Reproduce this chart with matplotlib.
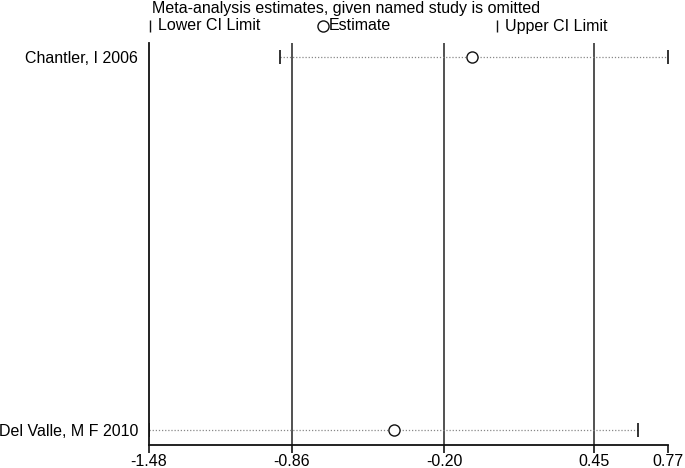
import matplotlib
matplotlib.use("Agg")
import matplotlib.pyplot as plt
from matplotlib.lines import Line2D

plt.rcParams['font.family'] = ['Liberation Sans', 'DejaVu Sans']

studies = ["Chantler, I 2006", "Del Valle, M F 2010"]
estimate = [-0.08, -0.42]
lower = [-0.91, -1.48]
upper = [0.77, 0.64]
overall = [-0.86, -0.20, 0.45]  # overall lower CI, estimate, upper CI
xticks = [-1.48, -0.86, -0.20, 0.45, 0.77]
tick_labels = ["-1.48", "-0.86", "-0.20", "0.45", "0.77"]
title = "Meta-analysis estimates, given named study is omitted"

FS = 11.5

fig = plt.figure(figsize=(6.85, 4.68), dpi=100)
ax = fig.add_axes([149/685, 1 - 445/468, (668 - 149)/685, (445 - 43)/468])

ypos = [1, 0]
for v in overall:
    ax.axvline(v, color='#222222', lw=1.1, zorder=1)

for y, lo, est, up in zip(ypos, lower, estimate, upper):
    ax.plot([lo, up], [y, y], color='#888888', lw=0.9, ls=(0, (1, 1.5)), zorder=2)
    ax.plot([lo], [y], marker='|', color='#111111', ms=10, mew=1.2, zorder=3)
    ax.plot([up], [y], marker='|', color='#111111', ms=10, mew=1.2, zorder=3)
    ax.plot([est], [y], marker='o', mfc='white', mec='#111111', ms=8, mew=1.0, zorder=4)

ax.set_xlim(xticks[0], xticks[-1])
ax.set_ylim(-0.04, 1.0374)
ax.set_xticks(xticks)
ax.set_xticklabels(tick_labels, fontsize=FS)
ax.set_yticks(ypos)
ax.set_yticklabels(studies, fontsize=FS)
ax.tick_params(axis='y', length=0, pad=8)
ax.tick_params(axis='x', length=6, width=1.1, direction='out', pad=0.5)
for s in ['top', 'right']:
    ax.spines[s].set_visible(False)
for s in ['left', 'bottom']:
    ax.spines[s].set_linewidth(1.3)
    ax.spines[s].set_color('#111111')

fig.text(152/685, 1 - 8/468, title, fontsize=FS, va='center', ha='left')

leg_y = 1 - 26/468
items = [(150, '|', "Lower CI Limit", 158), (323, 'o', "Estimate", 329), (497, '|', "Upper CI Limit", 505)]
for mx, mk, lab, tx in items:
    if mk == 'o':
        fig.add_artist(Line2D([mx/685], [leg_y], marker='o', mfc='white', mec='#111111',
                              ms=8, mew=1.0, transform=fig.transFigure))
    else:
        fig.add_artist(Line2D([mx/685], [leg_y], marker='|', color='#111111',
                              ms=9, mew=1.0, transform=fig.transFigure))
    fig.text(tx/685, leg_y, lab, fontsize=FS, va='center', ha='left')

fig.savefig("out.png", dpi=100)
